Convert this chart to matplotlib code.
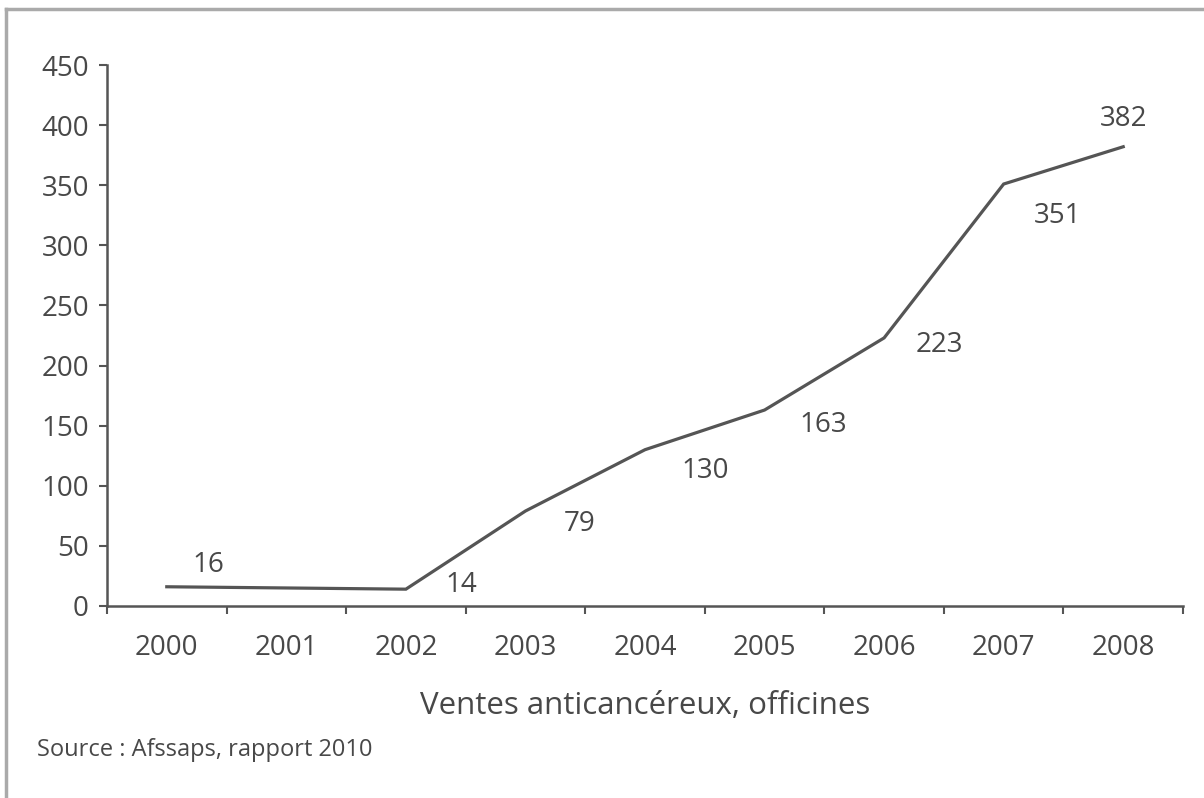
import matplotlib.pyplot as plt
from matplotlib.lines import Line2D
import numpy as np

years = ["2000", "2001", "2002", "2003", "2004", "2005", "2006", "2007", "2008"]
data_years = ["2000", "2002", "2003", "2004", "2005", "2006", "2007", "2008"]
ventes = [16, 14, 79, 130, 163, 223, 351, 382]
yticks = [0, 50, 100, 150, 200, 250, 300, 350, 400, 450]

# where each value label sits relative to its point (offset points)
label_offsets = [(30, 16), (40, 3), (39, -9), (43, -15), (42, -11), (40, -5), (39, -23), (0, 20)]

grey = "#555555"
txt = "#484848"
plt.rcParams['font.family'] = ['Open Sans', 'DejaVu Sans']

def main():
    fig = plt.figure(figsize=(12.04, 7.98), dpi=100)
    ax = fig.add_axes([107 / 1204, 192 / 798, 1076 / 1204, 541 / 798])

    xpos = [years.index(y) for y in data_years]
    ax.plot(xpos, ventes, color=grey, lw=2.3, solid_joinstyle="miter")

    for x, v, off in zip(xpos, ventes, label_offsets):
        ax.annotate(str(v), (x, v), xytext=off, textcoords="offset points",
                    ha="center", va="center", fontsize=20, color=txt)

    ax.set_xlim(-0.5, len(years) - 0.5)
    ax.set_ylim(0, 450)
    ax.set_xticks(range(len(years)))
    ax.set_xticklabels(years)
    ax.set_xticks(np.arange(-0.5, len(years), 1.0), minor=True)
    ax.set_yticks(yticks)

    ax.tick_params(axis="x", which="major", length=0, pad=20, labelsize=20, labelcolor=txt)
    ax.tick_params(axis="x", which="minor", length=6, width=1.5, color=grey, direction="out")
    ax.tick_params(axis="y", length=6, width=1.5, color=grey, pad=7, labelsize=20, labelcolor=txt)

    for s in ["top", "right"]:
        ax.spines[s].set_visible(False)
    for s in ["left", "bottom"]:
        ax.spines[s].set_color(grey)
        ax.spines[s].set_linewidth(1.8)

    ax.set_xlabel("Ventes anticancéreux, officines", fontsize=22.5, color=txt, labelpad=21)

    fig.text(37 / 1204, 1 - 750 / 798, "Source : Afssaps, rapport 2010", fontsize=17,
             color=txt, ha="left", va="center")

    # light border of the original box (top and left edges)
    fig.add_artist(Line2D([6 / 1204, 1], [1 - 9 / 798, 1 - 9 / 798], color="#aaaaaa", lw=2.5,
                          transform=fig.transFigure))
    fig.add_artist(Line2D([6 / 1204, 6 / 1204], [0, 1 - 9 / 798], color="#aaaaaa", lw=2.5,
                          transform=fig.transFigure))

    fig.savefig("out.png", dpi=100)


if __name__ == "__main__":
    main()
